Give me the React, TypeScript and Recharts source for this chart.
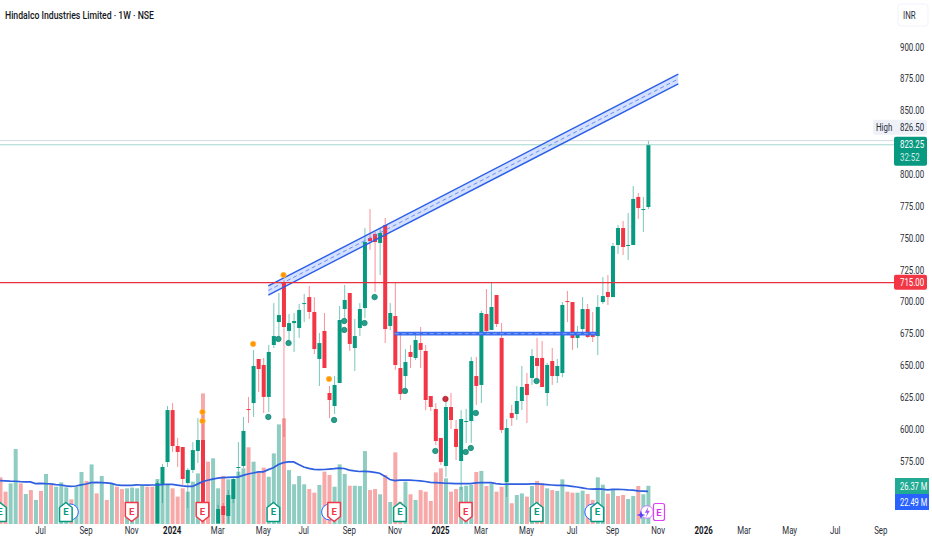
import React from "react";
import { ComposedChart, Bar, Line, Area, XAxis, YAxis, ReferenceLine } from "recharts";

const SLOT_COUNT = 178;
const CANDLE_START = 31;

// candle values, first entry is week 31; the two nulls are weeks below the visible price range
const opens = [526,556.2,574.2,615,586.8,586,557.7,568,582.9,591.5,null,null,526,539.7,531.8,545.2,569.5,571.1,615.8,620.5,655.1,650.4,625.3,666.1,684.1,715.5,677.1,683.3,679.4,698.3,703.7,692,655.1,677.1,628.4,618.2,636.2,694.3,706.9,663.7,679.4,695.1,750.1,753.2,746.2,760.3,681,688.8,648,641.7,660.6,655.9,667.6,661.4,626,615.8,593.1,571.1,617.4,600.2,575,605.6,606.4,641.7,634.7,690.4,677.9,705.3,671.6,558.5,612.7,611.9,622.1,635.5,640.2,655.9,655.9,628.4,653.5,641.7,644.1,700.6,699.8,671.6,678.6,694.3,676.3,673.1,699.8,707.7,703.7,744.6,757.9,743.8,744.6,782.3,772.1,774.4];
const highs = [559.5,572.7,618.2,620.5,593.1,586,569.5,589.9,608.8,611.1,null,null,540.5,542,552.2,562.4,589.9,609.6,625.3,662.2,655.1,655.9,666.1,699,706.9,717.1,690.4,691.2,698.3,706.1,712.4,703.7,675.5,691.2,633.9,641.7,696.7,713.2,706.9,686.5,699,757.9,772.8,754.8,757.9,765.8,699,714.8,675.5,662.9,666.1,676.3,680.2,666.1,626,620.5,593.1,621.3,628.4,607.2,615,615.8,656.7,656.7,692.8,710,714.8,705.3,683.3,608,619,633.9,649.6,644.1,662.9,671.6,669.2,652,663.7,655.1,699.8,708.5,699.8,681,703.7,698.3,692,705.3,719.4,721,746.2,760.3,763.4,769.7,790.9,785.4,782.3,826.5];
const lows = [526,542,570.3,582.1,570.3,556.2,538.1,565.6,573.4,526,null,null,526,526,526,542,562.4,569.5,604.8,609.6,629.2,612.7,613.5,663.7,672.4,593.9,667.6,660.6,671.6,684.1,686.5,659,633.9,648,608.8,611.9,636.2,686.5,661.4,645.7,673.1,687.3,740.7,707.7,721,667.6,677.8,646.5,622.9,630.8,648,654.3,648,615,614.3,587.6,571.9,562.4,600.2,575.8,552.2,589.2,589.2,619,620.5,673.9,677.9,680.2,597,546.8,602.5,607.2,615,604.8,634.7,640.2,633.1,618.2,634.7,636.2,640.9,684.1,662.2,663.7,675.5,671.6,668.4,658.2,698.3,697.5,703.7,737.5,736.7,732.8,744.6,765,754.8,772.8];
const closes = [557.7,570.3,615,586.8,582.1,560.9,568,583.6,591.5,528.7,null,null,537.3,532.6,548.3,560.9,570.3,598.6,615,649.6,647.2,625.3,660.6,673.1,689.6,680.2,683.3,684.9,693.6,699,692,662.9,667.6,648,622.9,634.7,685.7,701.4,666.9,673.1,694.3,746.9,747.7,746.9,754,678.6,691.2,650.4,627.6,652.7,656.7,670,662.2,622.9,617.4,590.7,574.2,617.4,607.2,586,608,606.4,653.5,633.9,691.2,677.1,695.9,682.6,599.4,600.9,608.8,622.1,633.1,626.8,657.4,649.6,633.1,650.4,641.7,649.6,697.5,699.8,671.6,676.3,694.3,672.4,672.4,695.9,704.5,703.7,743.8,757.9,743,744.6,780.7,773.6,772.8,823.25];

// weekly volume in millions
const volumes = [32.2,22.3,28,51.7,28,20.7,23.4,16.6,22.8,34.5,26.9,25.7,28.7,25.3,17,25.7,35.9,29.7,41.1,21.1,33.1,16.6,27.6,25.7,24.1,24.6,25.1,24.6,26.9,25.7,25.7,31,28,26.9,24.6,18.9,24.6,22.3,29.2,34.9,90.1,43,45.3,24.6,33.1,30.8,30.8,36.1,38.4,52.9,43,36.1,38.9,32.6,48.7,68.7,72.9,37.2,27.4,33.1,27.4,24.1,21.6,26.9,36.1,33.8,25.7,41.1,34.5,26.4,26.4,26.2,50.3,23.4,24.1,20.5,33.8,15.2,49.4,15.4,29.2,20.5,16.6,23.4,22.3,15.9,35.6,38.4,31.5,22.3,24.1,25.7,26.4,26.9,35.9,36.6,26.2,28,22.3,25.7,28.7,14.3,20,21.1,18.9,26.2,29.7,28,24.6,23.4,22.8,30.8,22.3,21.6,21.6,23,20.7,16.6,32.2,27.1,20.9,23.4,19.3,20,17.2,19.3,26.2,20.5,26.37];
const volumeDirections = "rrggrgrgrgrgggrggrgrgrgrrggggrrgggrrrgggrrggrggggrgrrgggrggggrrgrrgggrgggrrgrgrrgrgrrrrrgrrgggrgrgrrgrggrgrrgrggrrggrrggrgrrggrgg";
const volumeAverage = [29.9,29.8,29.6,29.5,29.2,29,29,27.9,28,27.8,27.7,27.2,26.9,26.3,26,26.2,27,27.6,28.5,28.7,28.5,28.3,28,27,26.7,26.7,26.7,27,26.9,26.8,26.9,26.9,27.2,27.4,27.3,26.8,26.3,26,25.9,27.5,29.2,30.2,31,31.6,32,32.2,32.3,32.3,33.5,34.5,35.2,35.9,36,37.5,38.8,41,42.3,42.8,42.8,41,39.3,38.4,37.7,37.5,37.6,37.9,38.2,38.6,38.3,37.2,36.6,36.2,36.3,36.1,35.6,35,33,30.7,29.9,30.3,30.3,30.2,30,29.7,29.3,28.7,28.5,28.3,28.1,28,27.9,27.8,27.8,27.9,28.4,28.5,28.5,28.5,27.9,27.5,27.4,27.5,27.5,27.5,27.5,27.7,27.7,27.5,27.2,26.9,26.6,26.6,26.5,26,25.5,24.9,24.3,24,24.2,24,23.5,23.9,23.9,23.8,23.5,23.3,22.9,22.7,22.49];

// indicator dots: [week, price]
const orangeDots = [[40,613.5],[40,606.4],[50,666.9],[56,721],[65,639.4]];
const greenDots = [[53,609.6],[55,670.8],[57,667.6],[66,607.2],[68,684.9],[68,677.9],[72,683.3],[74,703.7],[80,630],[86,582.9],[92,582.1],[93,585.2],[94,612.7],[106,637.8]];
const redDots = [[88,623.7]];

// earnings flags: [week, ring side]
const earningsUp = [[0,0],[13,1],[54,0],[79,0],[106,0],[118,-1]];
const earningsDown = [[26,0],[40,0],[66,-1],[92,0]];
const FLAG_PRICE = 535;

// drawings
const channelWeeks = [53, 134];
const channelUpper = [712.4, 878.8];
const channelMiddle = [708.9, 874.9];
const channelLower = [705.3, 871];
const baseWeeks = [78, 118];
const basePrice = 675;
const resistance = 715;
const lastPrice = 823.25;
const highPrice = 826.5;

const priceTicks = [575,600,625,650,675,700,725,750,775,800,850,875,900];
const timeTicks = [[8,"Jul"],[17,"Sep"],[26,"Nov"],[34,"2024"],[43,"Mar"],[52,"May"],[60,"Jul"],[69,"Sep"],[78,"Nov"],[87,"2025"],[95,"Mar"],[104,"May"],[113,"Jul"],[121,"Sep"],[130,"Nov"],[139,"2026"],[147,"Mar"],[156,"May"],[165,"Jul"],[174,"Sep"]];

const GREEN = "#089981";
const RED = "#f23645";
const BLUE = "#2a5ee8";
const FONT = "Roboto, sans-serif";
const TEXT = "#2a2e39";

const rows: any[] = Array.from({ length: SLOT_COUNT }, (_, slot) => ({ slot }));
rows.forEach((row, j) => {
  const k = j - CANDLE_START;
  if (k >= 0 && k < opens.length && opens[k] != null) {
    row.o = opens[k]; row.h = highs[k]; row.l = lows[k]; row.c = closes[k];
  }
  if (j < volumes.length) {
    row.vol = volumes[j];
    row.volUp = volumeDirections[j] === "g";
    row.volAvg = volumeAverage[j];
  }
});
const place = (list: number[][], a: string, b: string) =>
  list.forEach(([j, p]) => {
    if (rows[j][a] == null) rows[j][a] = p;
    else rows[j][b] = p;
  });
place(orangeDots, "orangeA", "orangeB");
place(greenDots, "greenA", "greenB");
place(redDots, "redA", "redB");
channelWeeks.forEach((j, n) => {
  rows[j].upper = channelUpper[n];
  rows[j].middle = channelMiddle[n];
  rows[j].lower = channelLower[n];
});
earningsUp.forEach(([j, ring]) => { rows[j].flagUp = FLAG_PRICE; rows[j].flagRing = ring; });
earningsDown.forEach(([j, ring]) => { rows[j].flagDown = FLAG_PRICE; rows[j].flagRing = ring; });

const Candle = (props: any) => {
  const { x, y, width, height, payload } = props;
  if (payload.o == null) return <g />;
  const { o, h, l, c } = payload;
  const cx = x + width / 2;
  const perUnit = height / (h - l);
  const top = y + (h - Math.max(o, c)) * perUnit;
  const bodyH = Math.max(Math.abs(o - c) * perUnit, 1);
  const color = c >= o ? GREEN : RED;
  return (
    <g>
      <line x1={cx} x2={cx} y1={y} y2={y + height} stroke={color} strokeWidth={1} strokeOpacity={0.55} />
      <rect x={x} y={top} width={width} height={bodyH} fill={color} />
    </g>
  );
};

const VolumeBar = (props: any) => {
  const { x, y, width, height, payload } = props;
  return <rect x={x} y={y} width={width} height={height} fill={payload.volUp ? "#8fcdc2" : "#f7a9a9"} />;
};

const marker = (fill: string, stroke: string) => (props: any) => {
  const { cx, cy, index } = props;
  if (cx == null || cy == null) return <g key={index} />;
  return <circle key={index} cx={cx} cy={cy} r={2.7} fill={fill} stroke={stroke} strokeWidth={0.8} />;
};

const flag = (up: boolean) => (props: any) => {
  const { cx, cy, index, payload } = props;
  if (cx == null || cy == null) return <g key={index} />;
  const color = up ? GREEN : RED;
  const t = cy - 9.5, b = cy + 9.5, s = 6.3;
  const d = up
    ? `M${cx} ${t} L${cx + s} ${t + 5} L${cx + s} ${b} L${cx - s} ${b} L${cx - s} ${t + 5} Z`
    : `M${cx - s} ${t} L${cx + s} ${t} L${cx + s} ${b - 5} L${cx} ${b} L${cx - s} ${b - 5} Z`;
  return (
    <g key={index}>
      {payload.flagRing ? (
        <circle cx={cx + payload.flagRing * 4.5} cy={cy} r={8} fill="#fff" stroke="#2962ff" strokeWidth={1} />
      ) : null}
      <path d={d} fill="#fff" stroke={color} strokeWidth={1.5} strokeLinejoin="round" />
      <text x={cx} y={cy + 3.5} textAnchor="middle" fontSize={9.5} fontWeight={700} fontFamily={FONT} fill={color}>E</text>
    </g>
  );
};

const squeezed = (x: number, y: number, label: string, opts: any = {}) => (
  <g transform={`translate(${x},${y}) scale(0.75,1)`}>
    <text x={0} y={0} textAnchor={opts.anchor || "start"} fontSize={opts.size || 10.5} fontFamily={FONT} fontWeight={opts.weight || 400} fill={opts.fill || TEXT}>{label}</text>
  </g>
);

const PriceTick = (props: any) => {
  const { x, y, payload } = props;
  return squeezed(x - 6.5, y + 3.6, payload.value.toFixed(2));
};

const TimeTick = (props: any) => {
  const { x, y, payload } = props;
  const found = timeTicks.find((t) => t[0] === payload.value);
  const label = found ? String(found[1]) : "";
  return squeezed(x, y + 2, label, { anchor: "middle", weight: /^\d/.test(label) ? 700 : 400, fill: /^\d/.test(label) ? "#131722" : TEXT });
};

const RedTag = ({ viewBox }: any) => (
  <g>
    <rect x={894} y={viewBox.y - 8} width={33} height={15} rx={2} fill={RED} />
    {squeezed(900, viewBox.y + 3.5, resistance.toFixed(2), { fill: "#fff" })}
  </g>
);
const LastTag = ({ viewBox }: any) => (
  <g>
    <rect x={894} y={viewBox.y - 8} width={33} height={29} rx={2} fill={GREEN} />
    {squeezed(900, viewBox.y + 3.5, lastPrice.toFixed(2), { fill: "#fff" })}
    {squeezed(900, viewBox.y + 16.5, "32:52", { fill: "#cdeee7" })}
  </g>
);
const HighTag = ({ viewBox }: any) => (
  <g>
    <rect x={873} y={viewBox.y - 21} width={54} height={15} rx={2} fill="#eef1f8" />
    {squeezed(876, viewBox.y - 9.5, "High")}
    {squeezed(900, viewBox.y - 9.5, highPrice.toFixed(2))}
  </g>
);

export default function App() {
  return (
    <div style={{ position: "absolute", left: 0, top: 0, width: 932, height: 550, background: "#fff", overflow: "hidden" }}>
      <ComposedChart
        width={932}
        height={550}
        data={rows}
        margin={{ top: 0, right: 0, bottom: 0, left: -2.5 }}
        barCategoryGap={0}
      >
        <XAxis
          dataKey="slot"
          type="category"
          ticks={timeTicks.map((t) => t[0]) as any}
          interval={0}
          height={26}
          axisLine={false}
          tickLine={false}
          tick={<TimeTick />}
        />
        <XAxis xAxisId="candles" dataKey="slot" type="category" hide />
        <YAxis
          yAxisId="price"
          orientation="right"
          type="number"
          domain={[525.56, 936.9]}
          ticks={priceTicks}
          width={33.5}
          axisLine={false}
          tickLine={false}
          allowDataOverflow
          tick={<PriceTick />}
        />
        <YAxis yAxisId="vol" hide type="number" domain={[0, 361.4]} allowDataOverflow />

        <Bar yAxisId="vol" dataKey="vol" barSize={4} shape={<VolumeBar />} isAnimationActive={false} />
        <Line yAxisId="vol" dataKey="volAvg" stroke="#2f5fe0" strokeWidth={1.7} dot={false} activeDot={false} isAnimationActive={false} />

        <ReferenceLine yAxisId="price" y={highPrice} stroke="#d5dbe3" strokeWidth={1} label={<HighTag />} />
        <ReferenceLine yAxisId="price" y={lastPrice} stroke="#a5d8cf" strokeWidth={1} label={<LastTag />} />

        <Area
          yAxisId="price"
          dataKey={(d: any) => (d.upper == null ? null : [d.lower, d.upper])}
          stroke="none"
          fill="#2962ff"
          fillOpacity={0.2}
          connectNulls
          dot={false}
          activeDot={false}
          isAnimationActive={false}
        />
        <Line yAxisId="price" dataKey="upper" stroke={BLUE} strokeWidth={1.4} dot={false} activeDot={false} connectNulls isAnimationActive={false} />
        <Line yAxisId="price" dataKey="lower" stroke={BLUE} strokeWidth={1.4} dot={false} activeDot={false} connectNulls isAnimationActive={false} />
        <Line yAxisId="price" dataKey="middle" stroke="#5f86ee" strokeWidth={0.9} strokeDasharray="4 3" dot={false} activeDot={false} connectNulls isAnimationActive={false} />

        <ReferenceLine
          yAxisId="price"
          segment={[{ x: baseWeeks[0], y: basePrice }, { x: baseWeeks[1], y: basePrice }]}
          stroke="#3a6cf0"
          strokeWidth={3.6}
        />
        <ReferenceLine
          yAxisId="price"
          segment={[{ x: baseWeeks[0], y: basePrice }, { x: baseWeeks[1], y: basePrice }]}
          stroke="#8fadf5"
          strokeWidth={0.8}
          strokeDasharray="4 3"
        />

        <Bar xAxisId="candles" yAxisId="price" dataKey={(d: any) => (d.o == null ? null : [d.l, d.h])} barSize={4} shape={<Candle />} isAnimationActive={false} />

        <ReferenceLine yAxisId="price" y={resistance} stroke="#e8303f" strokeWidth={1.2} label={<RedTag />} />

        <Line yAxisId="price" dataKey="orangeA" stroke="none" dot={marker("#ff9800", "#ffb74d")} activeDot={false} isAnimationActive={false} />
        <Line yAxisId="price" dataKey="orangeB" stroke="none" dot={marker("#ff9800", "#ffb74d")} activeDot={false} isAnimationActive={false} />
        <Line yAxisId="price" dataKey="greenA" stroke="none" dot={marker("#2a9d8a", "#0f8a76")} activeDot={false} isAnimationActive={false} />
        <Line yAxisId="price" dataKey="greenB" stroke="none" dot={marker("#2a9d8a", "#0f8a76")} activeDot={false} isAnimationActive={false} />
        <Line yAxisId="price" dataKey="redA" stroke="none" dot={marker("#c8323f", "#b71c2c")} activeDot={false} isAnimationActive={false} />

        <Line yAxisId="price" dataKey="flagUp" stroke="none" dot={flag(true)} activeDot={false} isAnimationActive={false} />
        <Line yAxisId="price" dataKey="flagDown" stroke="none" dot={flag(false)} activeDot={false} isAnimationActive={false} />
      </ComposedChart>

      <svg width={932} height={550} style={{ position: "absolute", left: 0, top: 0, pointerEvents: "none" }}>
        <text x={5} y={19} fontSize={11.5} fontFamily={FONT} fontWeight={500} fill="#131722" textLength={149} lengthAdjust="spacingAndGlyphs">
          Hindalco Industries Limited · 1W · NSE
        </text>
        <rect x={898} y={4} width={30} height={22} rx={3} fill="#fff" stroke="#f0f3fa" />
        {squeezed(903, 19, "INR")}

        <rect x={895} y={478} width={34} height={16} fill="#22ab94" />
        {squeezed(900, 490, "26.37 M", { fill: "#fff", size: 10 })}
        <rect x={895} y={494} width={34} height={16} fill="#2962ff" />
        {squeezed(900, 506, "22.49 M", { fill: "#fff", size: 10 })}

        <circle cx={647} cy={512} r={6.3} fill="#fff" stroke="#c77dff" strokeWidth={1} />
        <path d="M648.5 506.5 L644.8 512.8 L647.2 512.8 L645.8 517.5 L649.8 510.8 L647.4 510.8 Z" fill="#a855f7" />
        <path d="M641 510.5 L642.1 513.9 L645.4 515 L642.1 516.1 L641 519.5 L639.9 516.1 L636.6 515 L639.9 513.9 Z" fill="#5b3df5" />
        <rect x={653.5} y={503.5} width={11} height={17} rx={2} fill="#fff" stroke="#e040fb" strokeWidth={1.2} />
        <text x={659} y={515.5} textAnchor="middle" fontSize={9.5} fontWeight={700} fontFamily={FONT} fill="#d633f0">E</text>
      </svg>
    </div>
  );
}
